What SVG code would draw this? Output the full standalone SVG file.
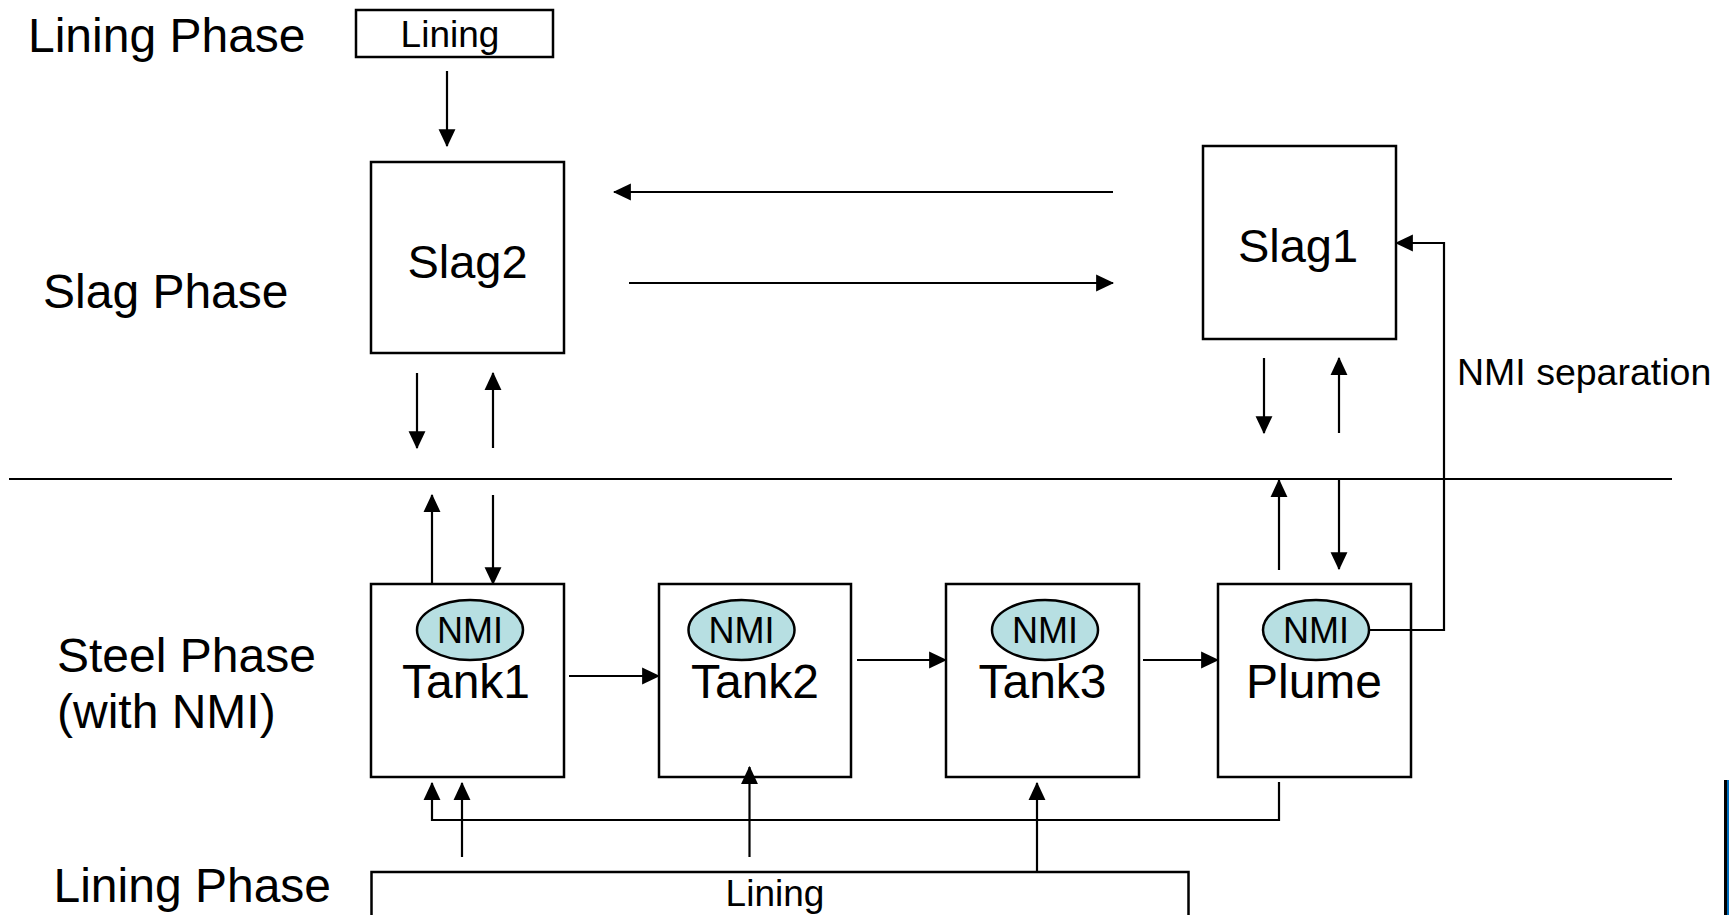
<svg xmlns="http://www.w3.org/2000/svg" width="1729" height="915" viewBox="0 0 1729 915">
<style>
.box{fill:#fff;stroke:#000;stroke-width:2.5}
.ell{fill:#b7dfe2;stroke:#000;stroke-width:2.5}
.ln{fill:none;stroke:#000;stroke-width:2.2}
.t{font-family:"Liberation Sans",Arial,sans-serif;fill:#000}
.lbl{font-size:48px}
.big{font-size:47px;text-anchor:middle}
.tank{font-size:48px;text-anchor:middle}
.nmi{font-size:36px;text-anchor:middle}
.sm{font-size:37px}
</style>
<defs>
<marker id="ah" markerUnits="userSpaceOnUse" markerWidth="18" markerHeight="18" viewBox="0 -8 16 16" refX="15" refY="0" orient="auto">
<path d="M0,-7.5 L16,0 L0,7.5 z" fill="#000"/>
</marker>
</defs>
<rect width="1729" height="915" fill="#fff"/>
<text class="t lbl" x="28" y="52">Lining Phase</text>
<text class="t lbl" x="43" y="308">Slag Phase</text>
<text class="t lbl" x="57" y="672">Steel Phase</text>
<text class="t lbl" x="57" y="728">(with NMI)</text>
<text class="t lbl" x="53.5" y="902">Lining Phase</text>
<g id="lining-top">
<rect class="box" x="356" y="10" width="197" height="47"/>
<text class="t sm" x="450" y="47" text-anchor="middle">Lining</text>
</g>
<g id="slag2">
<rect class="box" x="371" y="162" width="193" height="191"/>
<text class="t big" x="467.5" y="278">Slag2</text>
</g>
<g id="slag1">
<rect class="box" x="1203" y="146" width="193" height="193"/>
<text class="t big" x="1298" y="262">Slag1</text>
</g>
<g id="nmi-separation-label">
<text class="t" x="1457" y="385" font-size="37.5">NMI separation</text>
</g>
<g id="tank1">
<rect class="box" x="371" y="584" width="193" height="193"/>
<ellipse class="ell" cx="470" cy="630" rx="53" ry="30"/>
<text class="t nmi" x="470" y="643">NMI</text>
<text class="t tank" x="466" y="698">Tank1</text>
</g>
<g id="tank2">
<rect class="box" x="659" y="584" width="192" height="193"/>
<ellipse class="ell" cx="741.5" cy="630" rx="53" ry="30"/>
<text class="t nmi" x="741.5" y="643">NMI</text>
<text class="t tank" x="755" y="698">Tank2</text>
</g>
<g id="tank3">
<rect class="box" x="946" y="584" width="193" height="193"/>
<ellipse class="ell" cx="1045" cy="630" rx="53" ry="30"/>
<text class="t nmi" x="1045" y="643">NMI</text>
<text class="t tank" x="1042.5" y="698">Tank3</text>
</g>
<g id="plume">
<rect class="box" x="1218" y="584" width="193" height="193"/>
<ellipse class="ell" cx="1316" cy="630" rx="53" ry="30"/>
<text class="t nmi" x="1316" y="643">NMI</text>
<text class="t tank" x="1314" y="698">Plume</text>
</g>
<g id="lining-bottom">
<rect class="box" x="371.5" y="872" width="817" height="60"/>
<text class="t sm" x="775" y="906" text-anchor="middle">Lining</text>
</g>
<g id="connectors">
<line class="ln" x1="9" y1="479" x2="1672" y2="479"/>
<line class="ln" x1="447" y1="71" x2="447" y2="146" marker-end="url(#ah)"/>
<line class="ln" x1="1113" y1="192" x2="614" y2="192" marker-end="url(#ah)"/>
<line class="ln" x1="629" y1="283" x2="1113" y2="283" marker-end="url(#ah)"/>
<line class="ln" x1="417" y1="373" x2="417" y2="448" marker-end="url(#ah)"/>
<line class="ln" x1="493" y1="448" x2="493" y2="373" marker-end="url(#ah)"/>
<line class="ln" x1="1264" y1="358" x2="1264" y2="433" marker-end="url(#ah)"/>
<line class="ln" x1="1339" y1="433" x2="1339" y2="358" marker-end="url(#ah)"/>
<line class="ln" x1="432" y1="584" x2="432" y2="495" marker-end="url(#ah)"/>
<line class="ln" x1="493" y1="495" x2="493" y2="584" marker-end="url(#ah)"/>
<line class="ln" x1="1279" y1="570" x2="1279" y2="480" marker-end="url(#ah)"/>
<line class="ln" x1="1339" y1="480" x2="1339" y2="569" marker-end="url(#ah)"/>
<line class="ln" x1="569" y1="676" x2="659" y2="676" marker-end="url(#ah)"/>
<line class="ln" x1="857" y1="660" x2="946" y2="660" marker-end="url(#ah)"/>
<line class="ln" x1="1143" y1="660" x2="1218" y2="660" marker-end="url(#ah)"/>
<polyline class="ln" points="1369,630 1444,630 1444,243 1396,243" marker-end="url(#ah)"/>
<polyline class="ln" points="1279,782 1279,820 432,820 432,783" marker-end="url(#ah)"/>
<line class="ln" x1="462" y1="857" x2="462" y2="783" marker-end="url(#ah)"/>
<line class="ln" x1="749.5" y1="857" x2="749.5" y2="767" marker-end="url(#ah)"/>
<line class="ln" x1="1037" y1="872" x2="1037" y2="783" marker-end="url(#ah)"/>
</g>
<rect x="1724" y="780" width="3" height="135" fill="#000"/>
<rect x="1727" y="780" width="2" height="135" fill="#0070c0"/>
</svg>
